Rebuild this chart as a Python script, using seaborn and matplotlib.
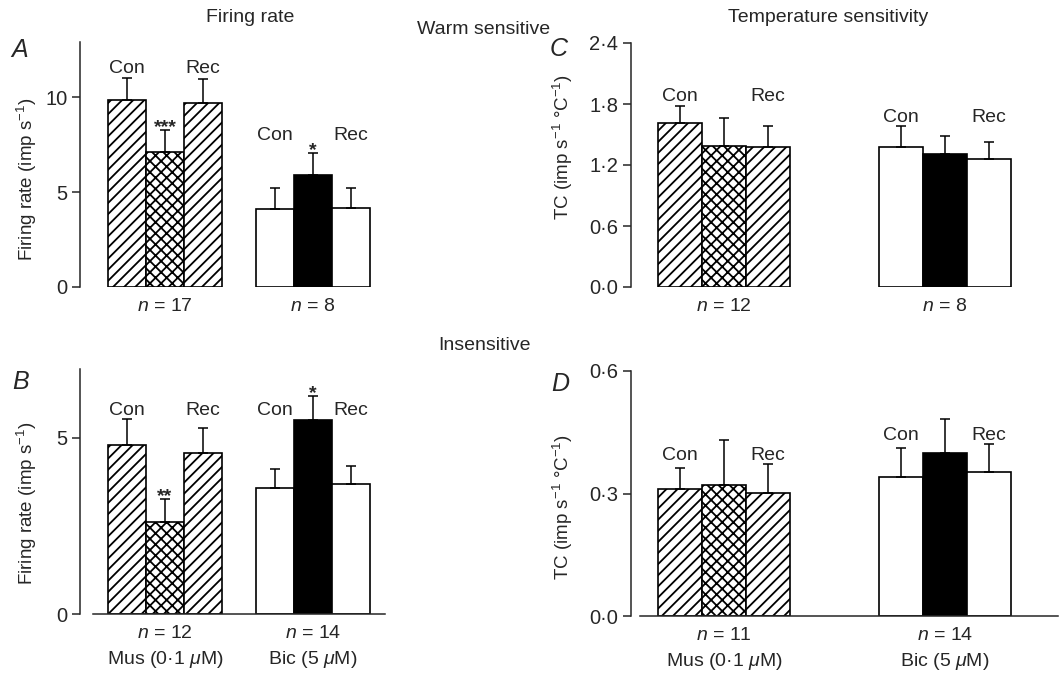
import numpy as np
import pandas as pd
import matplotlib
matplotlib.use("Agg")
import matplotlib.pyplot as plt
import seaborn as sns
from matplotlib.ticker import FuncFormatter

# ---------------- data ----------------
conditions = ["Con", "Mus", "Rec", "Con", "Bic", "Rec"]

A_mean = [9.84, 7.10, 9.70, 4.10, 5.90, 4.15]   # firing rate, warm sensitive
A_sem = [1.16, 1.16, 1.25, 1.10, 1.15, 1.05]
A_n = ["17", "8"]
A_stars = ["", "***", "", "", "*", ""]

B_mean = [4.80, 2.61, 4.57, 3.58, 5.51, 3.69]   # firing rate, insensitive
B_sem = [0.74, 0.66, 0.71, 0.54, 0.69, 0.51]
B_n = ["12", "14"]
B_stars = ["", "**", "", "", "*", ""]

C_mean = [1.61, 1.39, 1.38, 1.38, 1.31, 1.26]   # TC, warm sensitive
C_sem = [0.17, 0.27, 0.20, 0.20, 0.18, 0.17]
C_n = ["12", "8"]

D_mean = [0.311, 0.321, 0.301, 0.340, 0.400, 0.353]  # TC, insensitive
D_sem = [0.051, 0.110, 0.071, 0.071, 0.082, 0.068]
D_n = ["11", "14"]

drugs = ["Mus (0·1 $\\mu$M)", "Bic (5 $\\mu$M)"]
ticks_AB = {"A": [0, 5, 10], "B": [0, 5]}
ticks_CD = {"C": [0.0, 0.6, 1.2, 1.8, 2.4], "D": [0.0, 0.3, 0.6]}

# ---------------- style ----------------
sns.set_style("ticks")
plt.rcParams["font.family"] = ["Liberation Sans", "DejaVu Sans"]
plt.rcParams.update({
    "mathtext.fontset": "custom",
    "mathtext.rm": "Liberation Sans",
    "mathtext.it": "Liberation Sans:italic",
    "mathtext.bf": "Liberation Sans:bold",
    "hatch.linewidth": 1.3,
    "hatch.color": "black",
    "axes.linewidth": 1.1,
    "xtick.major.width": 1.1,
    "ytick.major.width": 1.1,
    "ytick.major.size": 6,
    "font.size": 14,
})

FS = 14
W, H = 1060, 674
fig = plt.figure(figsize=(W / 100, H / 100), dpi=100)


def rect(l, t, r, b):
    return [l / W, 1 - b / H, (r - l) / W, (b - t) / H]


hatches = ["///", "xxx", "///", None, None, None]
faces = ["white", "white", "white", "white", "black", "white"]


def panel(box, means, sems, xpos, xlim, ylim, ticks, fmt, bottom_line,
          lab_y, n_labels, stars=None, drug=False, ylabel="", ylab_px=None):
    ax = fig.add_axes(rect(*box))
    df = pd.DataFrame({"x": xpos, "y": means, "cond": conditions})
    sns.barplot(data=df, x="x", y="y", native_scale=True, width=1.0,
                color="white", edgecolor="black", linewidth=1.2,
                errorbar=None, ax=ax, zorder=2)
    for p, h, fc in zip(ax.patches, hatches, faces):
        p.set_hatch(h)
        p.set_facecolor(fc)
        p.set_edgecolor("black")
    ax.errorbar(xpos, means, yerr=[np.zeros(len(means)), sems], fmt="none",
                ecolor="black", elinewidth=1.1, capsize=3.6, capthick=1.1,
                zorder=3)
    ax.set_xlim(*xlim)
    ax.set_ylim(*ylim)
    ax.set_xticks([])
    ax.set_yticks(ticks)
    ax.yaxis.set_major_formatter(FuncFormatter(fmt))
    ax.tick_params(axis="y", labelsize=FS + 0.5, direction="out", length=6, pad=3)
    ax.set_xlabel("")
    sns.despine(ax=ax, offset={"left": 6.5 if xlim[1] > 7 else 9.4},
                bottom=not bottom_line)
    # condition labels
    for g, ly in enumerate(lab_y):
        ax.text(xpos[3 * g], ly, "Con", ha="center", va="center", fontsize=FS)
        ax.text(xpos[3 * g + 2], ly, "Rec", ha="center", va="center", fontsize=FS)
    # significance stars
    if stars:
        for x, m, s, st in zip(xpos, means, sems, stars):
            if st:
                ax.annotate(st, xy=(x, m + s), xytext=(0, -1.5),
                            textcoords="offset points", ha="center",
                            va="baseline", fontsize=FS, fontweight="bold")
    # n labels and drug labels
    for g, n in enumerate(n_labels):
        ax.annotate(f"$n$ = {n}", xy=(xpos[3 * g + 1], 0), xytext=(0, -14),
                    textcoords="offset points", ha="center", va="center",
                    fontsize=FS, annotation_clip=False)
        if drug:
            ax.annotate(drugs[g], xy=(xpos[3 * g + 1], 0), xytext=(0, -32.5),
                        textcoords="offset points", ha="center", va="center",
                        fontsize=FS, annotation_clip=False)
    ax.set_ylabel(ylabel, fontsize=FS - 0.5, va="center", ha="center")
    l, t, r, b = box
    ax.yaxis.set_label_coords((ylab_px[0] - l) / (r - l),
                              (b - ylab_px[1]) / (b - t))
    return ax


int_fmt = lambda v, p: f"{v:.0f}"
dot_fmt = lambda v, p: f"{v:.1f}".replace(".", "·")

xAB = [0, 1, 2, 3.9, 4.9, 5.9]
xCD = [0, 1, 2, 5, 6, 7]
fr_label = "Firing rate (imp s$^{-1}$)"
tc_label = "TC (imp s$^{-1}$ °C$^{-1}$)"

panel((93, 42, 385, 287), A_mean, A_sem, xAB, (-0.9, 6.8), (0, 12.9),
      ticks_AB["A"], int_fmt, False, [11.5, 8.0], A_n, stars=A_stars,
      ylabel=fr_label, ylab_px=(27, 179))
panel((93, 369, 385, 614), B_mean, B_sem, xAB, (-0.9, 6.8), (0, 6.96),
      ticks_AB["B"], int_fmt, True, [5.77, 5.77], B_n, stars=B_stars,
      drug=True, ylabel=fr_label, ylab_px=(27, 503))
panel((640, 43, 1058, 287), C_mean, C_sem, xCD, (-0.9, 8.56), (0, 2.4),
      ticks_CD["C"], dot_fmt, False, [1.87, 1.67], C_n,
      ylabel=tc_label, ylab_px=(563, 147))
panel((640, 371, 1058, 616), D_mean, D_sem, xCD, (-0.9, 8.56), (0, 0.6),
      ticks_CD["D"], dot_fmt, True, [0.392, 0.441], D_n, drug=True,
      ylabel=tc_label, ylab_px=(563, 507))


def ftext(x, y, s, **kw):
    fig.text(x / W, 1 - y / H, s, ha="center", va="center", **kw)


ftext(250, 17, "Firing rate", fontsize=FS)
ftext(828, 17, "Temperature sensitivity", fontsize=FS)
ftext(484, 29, "Warm sensitive", fontsize=FS)
ftext(484, 345, "Insensitive", fontsize=FS)
for letter, (x, y) in {"A": (20, 50), "B": (21, 382), "C": (559, 49), "D": (560, 384)}.items():
    ftext(x, y, letter, fontsize=18, style="italic")

fig.savefig("out.png", dpi=100)
